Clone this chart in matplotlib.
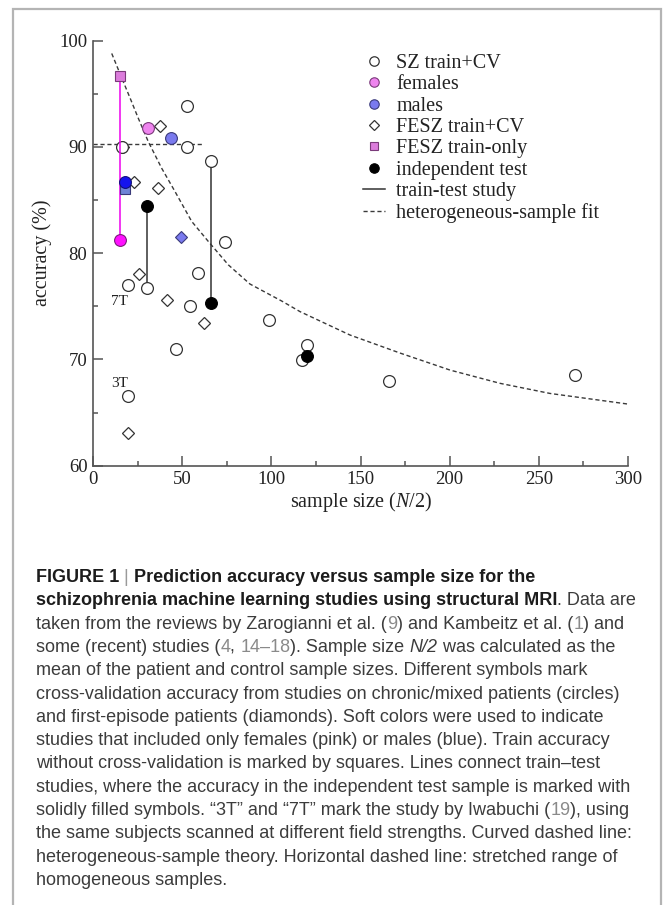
import matplotlib
matplotlib.use('Agg')
import matplotlib.pyplot as plt
from matplotlib.lines import Line2D
from matplotlib.patches import Rectangle
from matplotlib.ticker import MultipleLocator

# serif italic for the N in the x label
plt.rcParams['mathtext.fontset'] = 'custom'
plt.rcParams['mathtext.it'] = 'Liberation Serif:italic'
plt.rcParams['mathtext.rm'] = 'Liberation Serif'

# ---- values ----
# SZ train+CV (open circles)
sz_n = [16.1, 52.9, 52.9, 66.2, 74.1, 58.7, 19.8, 30.5, 54.4, 46.4, 98.7, 119.8, 117.0, 19.8, 166.1, 270.3]
sz_acc = [90.0, 93.85, 90.0, 88.7, 81.1, 78.1, 77.0, 76.7, 75.0, 70.95, 73.7, 71.4, 69.95, 66.6, 68.0, 68.5]

# FESZ train+CV (open diamonds)
fesz_n = [17.0, 37.7, 23.2, 36.3, 25.6, 41.3, 62.3, 19.8]
fesz_acc = [90.0, 92.0, 86.7, 86.1, 78.0, 75.6, 73.4, 63.1]

# female / male only studies (train+CV)
female_n = [30.9]
female_acc = [91.8]
male_n = [44.0]
male_acc = [90.8]
male_fesz_n = [49.3]
male_fesz_acc = [81.55]

# FESZ train-only (squares)
trainonly_female_n = [15.1]
trainonly_female_acc = [96.7]
trainonly_male_n = [18.0]
trainonly_male_acc = [86.0]

# independent test samples
test_n = [30.5, 66.2, 120.0]
test_acc = [84.4, 75.3, 70.3]
test_female_n = [15.1]
test_female_acc = [81.2]
test_male_n = [18.0]
test_male_acc = [86.7]

# train-test studies (train value -> test value)
link_n = [30.5, 66.2, 120.0]
link_train = [76.7, 88.7, 71.4]
link_test = [84.4, 75.3, 70.3]

# heterogeneous-sample fit
fit_n = [10.5, 16.1, 20.8, 25.4, 31.0, 38.5, 46.0, 55.3, 64.7, 75.9, 88.0,
         105.8, 116.1, 144.1, 172.2, 200.2, 228.3, 256.3, 300.0]
fit_acc = [98.8, 96.5, 94.6, 92.7, 90.5, 88.0, 85.8, 83.0, 81.1, 78.9, 77.1,
           75.5, 74.5, 72.3, 70.6, 69.0, 67.75, 66.8, 65.8]

# homogeneous range (horizontal dashed line)
homog_n = [0, 62.5]
homog_acc = [90.3, 90.3]

# field strength labels
field_labels = ['7T', '3T']
field_n = [15.1, 15.1]
field_acc = [75.5, 67.7]

legend_labels = ['SZ train+CV', 'females', 'males', 'FESZ train+CV',
                 'FESZ train-only', 'independent test', 'train-test study',
                 'heterogeneous-sample fit']

caption_lines = [
    [('FIGURE 1', 'b'), (' | ', 'bar'), ('Prediction accuracy versus sample size for the', 'b')],
    [('schizophrenia machine learning studies using structural MRI', 'b'), ('. Data are', 'r')],
    [('taken from the reviews by Zarogianni et al. (', 'r'), ('9', 'ref'), (') and Kambeitz et al. (', 'r'),
     ('1', 'ref'), (') and', 'r')],
    [('some (recent) studies (', 'r'), ('4', 'ref'), (', ', 'r'), ('14\u201318', 'ref'),
     ('). Sample size ', 'r'), ('N/2', 'i'), (' was calculated as the', 'r')],
    [('mean of the patient and control sample sizes. Different symbols mark', 'r')],
    [('cross-validation accuracy from studies on chronic/mixed patients (circles)', 'r')],
    [('and first-episode patients (diamonds). Soft colors were used to indicate', 'r')],
    [('studies that included only females (pink) or males (blue). Train accuracy', 'r')],
    [('without cross-validation is marked by squares. Lines connect train\u2013test', 'r')],
    [('studies, where the accuracy in the independent test sample is marked with', 'r')],
    [('solidly filled symbols. \u201c3T\u201d and \u201c7T\u201d mark the study by Iwabuchi (', 'r'),
     ('19', 'ref'), ('), using', 'r')],
    [('the same subjects scanned at different field strengths. Curved dashed line:', 'r')],
    [('heterogeneous-sample theory. Horizontal dashed line: stretched range of', 'r')],
    [('homogeneous samples.', 'r')],
]

W, H = 663, 905
SERIF = 'Liberation Serif'
SANS = 'Liberation Sans'

PINK = '#ee84ee'
MAGENTA = '#ff10ff'
LBLUE = '#7a7aee'
DBLUE = '#1414ee'
PINK_SQ = '#dc7cdc'
BLUE_SQ = '#6e84d6'
EDGE = '#333333'


def fx(px):
    return px / W


def fy(py):
    return 1 - py / H


fig = plt.figure(figsize=(W / 100, H / 100), dpi=100)
fig.patch.set_facecolor('white')

# grey frame round figure + caption
fig.patches.append(Rectangle((fx(13), -0.02), fx(661) - fx(13), fy(9) + 0.02,
                             transform=fig.transFigure, fill=False,
                             edgecolor='#b4b4b4', lw=1.6))

ax = fig.add_axes([fx(93), fy(465.7), fx(628) - fx(93), fy(40.7) - fy(465.7)])

# lines
ax.plot(fit_n, fit_acc, color='#3a3a3a', lw=1.0, dashes=(3.0, 2.0), zorder=1)
ax.plot(homog_n, homog_acc, color='#3a3a3a', lw=1.0, dashes=(3.0, 2.0), zorder=1)
ax.vlines(link_n, link_train, link_test, color='#333333', lw=1.1, zorder=2)
ax.vlines(trainonly_female_n, trainonly_female_acc, test_female_acc, color='#ee00ee', lw=1.1, zorder=4)
ax.vlines(trainonly_male_n, trainonly_male_acc, test_male_acc, color=DBLUE, lw=1.1, zorder=4)

# markers
ms_c = 8.5
ms_d = 6.0
ms_s = 6.5
ax.plot(fesz_n, fesz_acc, 'D', ls='none', ms=ms_d, mfc='white', mec=EDGE, mew=0.9, zorder=3)
ax.plot(sz_n, sz_acc, 'o', ls='none', ms=ms_c, mfc='white', mec=EDGE, mew=0.9, zorder=3.5)
ax.plot(female_n, female_acc, 'o', ls='none', ms=ms_c, mfc=PINK, mec='#7a3a7a', mew=0.8, zorder=5)
ax.plot(male_n, male_acc, 'o', ls='none', ms=ms_c, mfc=LBLUE, mec='#3a3a7a', mew=0.8, zorder=5)
ax.plot(male_fesz_n, male_fesz_acc, 'D', ls='none', ms=ms_d, mfc=LBLUE, mec='#3a3a7a', mew=0.8, zorder=5)
ax.plot(trainonly_female_n, trainonly_female_acc, 's', ls='none', ms=ms_s, mfc=PINK_SQ, mec='#7a3a7a', mew=0.8, zorder=5)
ax.plot(trainonly_male_n, trainonly_male_acc, 's', ls='none', ms=ms_s, mfc=BLUE_SQ, mec='#3a3a7a', mew=0.8, zorder=5)
ax.plot(test_n, test_acc, 'o', ls='none', ms=ms_c, mfc='black', mec='black', mew=0.8, zorder=5)
ax.plot(test_female_n, test_female_acc, 'o', ls='none', ms=ms_c, mfc=MAGENTA, mec='#7a1a7a', mew=0.8, zorder=5)
ax.plot(test_male_n, test_male_acc, 'o', ls='none', ms=ms_c, mfc=DBLUE, mec='#10107a', mew=0.8, zorder=6)

for lab, n, a in zip(field_labels, field_n, field_acc):
    ax.text(n, a, lab, fontsize=11, family=SERIF, ha='center', va='center', color='#222222')

# axes styling
ax.set_xlim(0, 300)
ax.set_ylim(60, 100)
ax.xaxis.set_major_locator(MultipleLocator(50))
ax.xaxis.set_minor_locator(MultipleLocator(25))
ax.yaxis.set_major_locator(MultipleLocator(10))
ax.yaxis.set_minor_locator(MultipleLocator(5))
for s in ['top', 'right']:
    ax.spines[s].set_visible(False)
for s in ['left', 'bottom']:
    ax.spines[s].set_color('#555555')
    ax.spines[s].set_linewidth(1.2)
ax.tick_params(which='both', direction='in', color='#555555', width=1.1,
               labelsize=13.5, labelcolor='#222222')
ax.tick_params(which='major', length=7, pad=4)
ax.tick_params(which='minor', length=3.5)
for lab in ax.get_xticklabels() + ax.get_yticklabels():
    lab.set_family(SERIF)
ax.set_xlabel('sample size ($\\mathit{N}$/2)', fontsize=14.5, family=SERIF, labelpad=1, color='#222222')
ax.set_ylabel('accuracy (%)', fontsize=14.5, family=SERIF, labelpad=5, color='#222222')

# legend
handles = [
    Line2D([], [], marker='o', ls='none', ms=ms_c, mfc='white', mec=EDGE, mew=0.9),
    Line2D([], [], marker='o', ls='none', ms=ms_c, mfc=PINK, mec='#7a3a7a', mew=0.8),
    Line2D([], [], marker='o', ls='none', ms=ms_c, mfc=LBLUE, mec='#3a3a7a', mew=0.8),
    Line2D([], [], marker='D', ls='none', ms=ms_d, mfc='white', mec=EDGE, mew=0.9),
    Line2D([], [], marker='s', ls='none', ms=ms_s + 1, mfc=PINK_SQ, mec='#7a3a7a', mew=0.8),
    Line2D([], [], marker='o', ls='none', ms=ms_c, mfc='black', mec='black', mew=0.8),
    Line2D([], [], color='#333333', lw=1.1),
    Line2D([], [], color='#3a3a3a', lw=1.0, dashes=(3.0, 2.0)),
]
leg = ax.legend(handles, legend_labels, loc='upper left',
                bbox_to_anchor=(fx(363), fy(54)), bbox_transform=fig.transFigure,
                frameon=False, prop={'family': SERIF, 'size': 14.5},
                handlelength=1.1, handletextpad=0.55, labelspacing=0.11,
                borderpad=0, borderaxespad=0, markerscale=0.8)
for t in leg.get_texts():
    t.set_color('#222222')

# caption, drawn run by run
styles = {
    'b': dict(weight='bold', color='#1c1c1c'),
    'r': dict(color='#3c3c3c'),
    'i': dict(style='italic', color='#3c3c3c'),
    'ref': dict(color='#8a8a8a'),
    'bar': dict(color='#9a9a9a'),
}
cap_size = 13.0
renderer = fig.canvas.get_renderer()


def run_width(s, st):
    t1 = fig.text(0, 0, s + '|', fontsize=cap_size, family=SANS, **styles[st])
    t2 = fig.text(0, 0, '|', fontsize=cap_size, family=SANS, **styles[st])
    w = t1.get_window_extent(renderer).width - t2.get_window_extent(renderer).width
    t1.remove()
    t2.remove()
    return w


y0 = 582
dy = 23.3
for i, line in enumerate(caption_lines):
    x = 36
    for s, st in line:
        fig.text(fx(x), fy(y0 + i * dy), s, fontsize=cap_size, family=SANS,
                 va='baseline', ha='left', **styles[st])
        x += run_width(s, st)

fig.savefig('out.png', dpi=100)
